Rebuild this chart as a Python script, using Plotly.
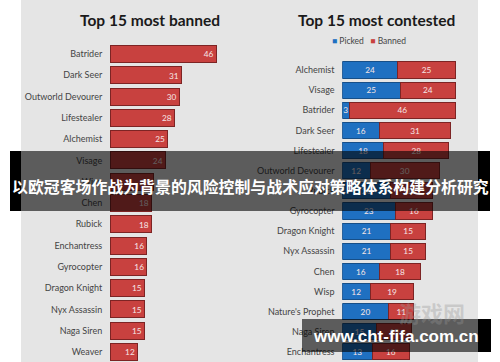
import plotly.graph_objects as go

W, H = 500, 362

banned_heroes = ["Batrider", "Dark Seer", "Outworld Devourer", "Lifestealer", "Alchemist",
                 "Visage", "Wisp", "Chen", "Rubick", "Enchantress", "Gyrocopter",
                 "Dragon Knight", "Nyx Assassin", "Naga Siren", "Weaver"]
banned_counts = [46, 31, 30, 28, 25, 24, 19, 18, 18, 16, 16, 15, 15, 15, 12]

contested_heroes = ["Alchemist", "Visage", "Batrider", "Dark Seer", "Lifestealer",
                    "Outworld Devourer", "Rubick", "Gyrocopter", "Dragon Knight",
                    "Nyx Assassin", "Chen", "Wisp", "Nature's Prophet", "Naga Siren",
                    "Enchantress"]
contested_picked = [24, 25, 3, 16, 18, 12, 21, 23, 21, 21, 16, 12, 20, 15, 13]
contested_banned = [25, 24, 46, 31, 28, 30, 18, 16, 15, 15, 18, 19, 11, 15, 16]

title_left = "Top 15 most banned"
title_right = "Top 15 most contested"
banner_text = "以欧冠客场作战为背景的风险控制与战术应对策略体系构建分析研究"
watermark_text = "www.cht-fifa.com.cn"
logo_text = "游戏网"

RED = "#c8413f"
RED_LINE = "#7d2424"
BLUE = "#1f70c1"
BLUE_LINE = "#174f88"
BG = "#e5e5e5"
FONT = "Lato, 'Open Sans', sans-serif"
LABEL_FONT = dict(family=FONT, size=9, color="#444444")
VAL_FONT = dict(family=FONT, size=9, color="#f6e6e6")

def px(x):
    return x / W

def py(y):
    return 1 - y / H

fig = go.Figure()

fig.add_trace(go.Bar(
    y=banned_heroes, x=banned_counts, orientation="h",
    marker=dict(color=RED, line=dict(color=RED_LINE, width=1)),
    text=banned_counts, textposition="inside", insidetextanchor="end", textangle=0,
    textfont=VAL_FONT, xaxis="x", yaxis="y", showlegend=False, name="Banned",
))
fig.add_trace(go.Bar(
    y=contested_heroes, x=contested_picked, orientation="h", name="Picked",
    marker=dict(color=BLUE, line=dict(color=BLUE_LINE, width=1)),
    text=contested_picked, textposition="inside", insidetextanchor="middle", textangle=0,
    textfont=VAL_FONT, xaxis="x2", yaxis="y2", showlegend=False,
))
fig.add_trace(go.Bar(
    y=contested_heroes, x=contested_banned, orientation="h", name="Banned",
    marker=dict(color=RED, line=dict(color=RED_LINE, width=1)),
    text=contested_banned, textposition="inside", insidetextanchor="middle", textangle=0,
    textfont=VAL_FONT, xaxis="x2", yaxis="y2", showlegend=False,
))

x1_start = 110
x2_start = 342.3
scale = 2.31
xr = 50

fig.update_layout(
    width=W, height=H, margin=dict(l=0, r=0, t=0, b=0),
    paper_bgcolor="white", plot_bgcolor="rgba(0,0,0,0)",
    barmode="stack", bargap=0.2,
    xaxis=dict(domain=[px(x1_start), px(x1_start + scale * xr)], range=[0, xr],
               visible=False),
    xaxis2=dict(domain=[px(x2_start), px(x2_start + scale * xr)], range=[0, xr],
                visible=False, anchor="y2"),
    yaxis=dict(domain=[0, py(43.4)], range=[14.47, -0.5], type="category",
               categoryorder="array", categoryarray=banned_heroes,
               ticks="outside", ticklen=5, tickcolor="rgba(0,0,0,0)",
               showgrid=False, showline=False, zeroline=False, tickfont=LABEL_FONT),
    yaxis2=dict(domain=[0, py(59.9)], range=[14.5, -0.5], type="category",
                categoryorder="array", categoryarray=contested_heroes, anchor="x2",
                ticks="outside", ticklen=5, tickcolor="rgba(0,0,0,0)",
                showgrid=False, showline=False, zeroline=False, tickfont=LABEL_FONT),
    uniformtext=dict(minsize=8, mode="show"),
)

shapes = [
    dict(type="rect", xref="paper", yref="paper", x0=px(21), x1=px(478), y0=0, y1=1,
         fillcolor=BG, line=dict(width=0), layer="below"),
    # banner
    dict(type="rect", xref="paper", yref="paper", x0=px(21), x1=px(478), y0=py(211), y1=py(151),
         fillcolor="rgba(0,0,0,0.6)", line=dict(width=0), layer="above"),
    dict(type="rect", xref="paper", yref="paper", x0=px(10), x1=px(21), y0=py(211), y1=py(151),
         fillcolor="black", line=dict(width=0), layer="above"),
    dict(type="rect", xref="paper", yref="paper", x0=px(478), x1=px(490), y0=py(211), y1=py(151),
         fillcolor="black", line=dict(width=0), layer="above"),
    # watermark box
    dict(type="rect", xref="paper", yref="paper", x0=px(302), x1=px(478), y0=py(352), y1=py(319),
         fillcolor="rgba(0,0,0,0.6)", line=dict(width=0), layer="above"),
    dict(type="rect", xref="paper", yref="paper", x0=px(478), x1=px(491), y0=py(352), y1=py(319),
         fillcolor="black", line=dict(width=0), layer="above"),
]
fig.update_layout(shapes=shapes)

legend_html = (f"<span style='color:{BLUE}'>■</span> Picked&nbsp;&nbsp;&nbsp;"
               f"<span style='color:{RED}'>■</span> Banned")

ann = [
    dict(text=f"<b>{title_left}</b>", x=px(150), y=py(20), xref="paper", yref="paper",
         showarrow=False, xanchor="center", yanchor="middle",
         font=dict(family=FONT, size=15.5, color="#1a1a1a")),
    dict(text=f"<b>{title_right}</b>", x=px(376), y=py(20), xref="paper", yref="paper",
         showarrow=False, xanchor="center", yanchor="middle",
         font=dict(family=FONT, size=15.5, color="#1a1a1a")),
    dict(text=legend_html, x=px(369), y=py(41), xref="paper", yref="paper",
         showarrow=False, xanchor="center", yanchor="middle",
         font=dict(family=FONT, size=8.5, color="#444444")),
    dict(text=f"<b>{logo_text}</b>", x=px(432), y=py(312), xref="paper", yref="paper",
         showarrow=False, xanchor="center", yanchor="middle",
         font=dict(family="Noto Sans CJK SC", size=22, color="rgba(150,150,150,0.35)")),
    dict(text=f"<b>{banner_text}</b>", x=px(250), y=py(186), xref="paper", yref="paper",
         showarrow=False, xanchor="center", yanchor="middle",
         font=dict(family="Noto Sans CJK SC", size=15.9, color="white")),
    dict(text=f"<b>{watermark_text}</b>", x=px(396), y=py(336), xref="paper", yref="paper",
         showarrow=False, xanchor="center", yanchor="middle",
         font=dict(family="Liberation Sans, Arial, sans-serif", size=17, color="white")),
]
fig.update_layout(annotations=ann)

fig.write_html("out.html")
